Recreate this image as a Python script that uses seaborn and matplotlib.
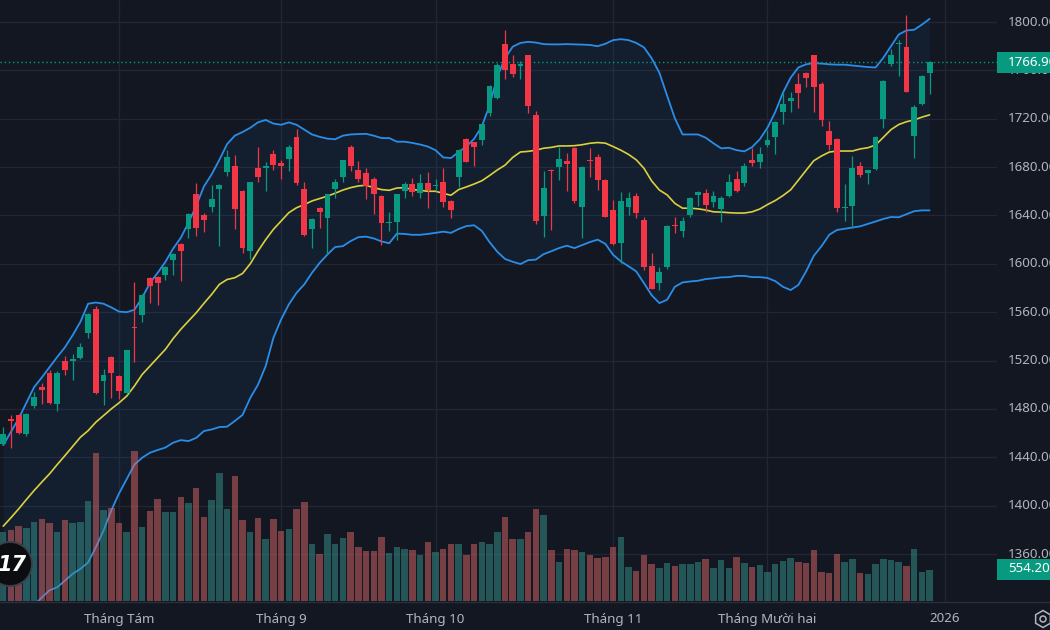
import numpy as np
import pandas as pd
import matplotlib
matplotlib.use("Agg")
import matplotlib.pyplot as plt
import seaborn as sns
from matplotlib.patches import Rectangle, Circle, RegularPolygon
from matplotlib.lines import Line2D
from matplotlib.transforms import blended_transform_factory, IdentityTransform

# ---------------- data ----------------
opens = [1451, 1472, 1475, 1459, 1482, 1498, 1509.5, 1484, 1520, 1520,
         1522, 1542.5, 1563, 1503, 1523, 1507, 1493, 1548, 1558, 1588,
         1589.5, 1590.5, 1603, 1616, 1628.5, 1658, 1640.5, 1647, 1661.5, 1676,
         1681, 1660, 1611, 1679, 1679, 1690.5, 1683, 1687, 1705, 1661.5,
         1629, 1646.5, 1638, 1662, 1672, 1697, 1678, 1675.5, 1670.5, 1656.5,
         1634, 1634.5, 1660.5, 1666, 1658.5, 1667, 1664, 1667.5, 1652, 1672,
         1703, 1700.5, 1702, 1724.5, 1737.5, 1782, 1765.5, 1764, 1772.5, 1723,
         1639.5, 1678, 1680, 1685, 1696, 1647, 1686, 1688.5, 1669.5, 1644.5,
         1617, 1647, 1656.5, 1636.5, 1598, 1584.5, 1597, 1632.5, 1627, 1640,
         1657, 1658.5, 1651, 1645.5, 1656, 1670.5, 1667, 1686, 1684, 1698,
         1704.5, 1725.5, 1735, 1749, 1758, 1772.5, 1749, 1710, 1703.5, 1646,
         1647.5, 1680.5, 1675.5, 1678.5, 1720, 1765, 1782, 1779.5, 1706, 1732.5,
         1758]
highs = [1465, 1475, 1476, 1476.5, 1494, 1501.5, 1512, 1511, 1524, 1525.5,
         1534.5, 1559, 1565.5, 1513, 1524, 1508, 1529, 1585, 1575, 1589,
         1590, 1598, 1609, 1617, 1642, 1666.5, 1642, 1665, 1666, 1694,
         1690, 1661, 1668, 1697, 1684, 1694.5, 1686, 1698, 1711.5, 1668,
         1638, 1647, 1658, 1670, 1686, 1698, 1685, 1679.5, 1672, 1657,
         1643, 1658, 1667.5, 1671, 1674.5, 1676, 1670.5, 1679, 1653, 1695,
         1704, 1701, 1716, 1748, 1766, 1793.5, 1773, 1768, 1773, 1726.5,
         1677, 1678.5, 1697, 1691.5, 1697, 1680.5, 1695.5, 1691, 1670.5, 1652.5,
         1659, 1659.5, 1658.5, 1638.5, 1609, 1597.5, 1632, 1639, 1638.5, 1655,
         1660, 1661.5, 1660, 1656.5, 1674.5, 1677, 1683, 1695.5, 1696.5, 1711,
         1718, 1742.5, 1742.5, 1758, 1759, 1773, 1750, 1718.5, 1704, 1666,
         1689, 1684.5, 1678, 1706, 1752, 1777.5, 1785.5, 1806, 1731, 1756,
         1767.5]
lows = [1450, 1448, 1459, 1458, 1481, 1484, 1484, 1478, 1508, 1504,
        1521, 1539, 1492, 1483, 1489, 1488, 1492, 1519, 1552, 1568,
        1566, 1586.5, 1591, 1586, 1621, 1623, 1626, 1643, 1615, 1673,
        1629, 1609, 1604, 1668, 1660, 1678, 1670.5, 1677, 1665, 1623,
        1613, 1630, 1608.5, 1654.5, 1668, 1676.5, 1668, 1654, 1641, 1615.5,
        1627, 1619.5, 1654.5, 1656.5, 1654.5, 1646, 1660, 1647, 1638, 1663.5,
        1684, 1680.5, 1698.5, 1722, 1736, 1753, 1754.5, 1753, 1725, 1633,
        1622, 1628, 1669, 1660.5, 1650.5, 1621.5, 1672, 1661, 1638.5, 1615.5,
        1600.5, 1640.5, 1638, 1595, 1579, 1578.5, 1596, 1625.5, 1622.5, 1639,
        1647.5, 1643, 1647, 1635, 1655, 1659, 1664.5, 1681, 1679.5, 1697,
        1691, 1716, 1725.5, 1728.5, 1746.5, 1725.5, 1714, 1694, 1642.5, 1635.5,
        1629.5, 1671.5, 1666, 1678, 1712.5, 1764, 1755, 1742, 1687.5, 1731,
        1740.5]
closes = [1459, 1470, 1460, 1476, 1490, 1496, 1485, 1510, 1512.5, 1521,
          1531, 1558.5, 1493, 1508, 1510, 1495, 1528.5, 1547, 1574, 1581.5,
          1584, 1597, 1608.5, 1611, 1641, 1630, 1636, 1654, 1665, 1688,
          1645.5, 1613, 1667.5, 1672, 1681, 1682, 1681, 1697, 1666.5, 1624,
          1637, 1643, 1657.5, 1667.5, 1685.5, 1681, 1670.5, 1664.5, 1657.5, 1633.5,
          1635, 1657.5, 1666, 1659, 1666.5, 1661, 1665, 1651.5, 1644.5, 1694.5,
          1684.5, 1697, 1715.5, 1747, 1764.5, 1760, 1757, 1765, 1730.5, 1635.5,
          1663, 1677, 1687, 1682.5, 1652, 1680, 1685, 1669, 1639, 1616.5,
          1652, 1654.5, 1642, 1597.5, 1579.5, 1593.5, 1631.5, 1631, 1635.5, 1654.5,
          1659.5, 1648.5, 1656, 1654.5, 1668, 1660, 1680.5, 1683.5, 1691, 1702,
          1717.5, 1732.5, 1737.5, 1741, 1753.5, 1746.5, 1719, 1698, 1646.5, 1647,
          1679.5, 1673.5, 1677.5, 1704.5, 1751.5, 1772.5, 1783, 1742.5, 1730, 1755,
          1766.9]
volumes = [1228, 1269, 1341, 1300, 1407, 1466, 1389, 1239, 1448, 1389,
           1418, 1788, 2652, 1627, 1668, 1389, 1234, 2687, 1328, 1615,
           1818, 1597, 1586, 1865, 1758, 2015, 1507, 1806, 2283, 1645,
           2235, 1448, 1234, 1479, 1114, 1466, 1252, 1287, 1650, 1770,
           1019, 835, 1198, 1019, 1126, 1234, 974, 885, 890, 1144,
           864, 966, 930, 917, 830, 1058, 876, 937, 1012, 1025,
           822, 1025, 1058, 1012, 1239, 1495, 1112, 1100, 1239, 1650,
           1543, 907, 697, 921, 907, 869, 831, 763, 787, 973,
           1144, 608, 542, 831, 656, 590, 688, 626, 656, 656,
           704, 751, 590, 733, 590, 787, 688, 599, 638, 519,
           656, 721, 763, 697, 679, 912, 519, 501, 833, 697,
           751, 508, 486, 654, 751, 740, 690, 626, 924, 519,
           554.2]
bb_upper = [1450, 1461, 1472, 1485, 1498, 1506, 1514.5, 1523, 1531, 1541,
            1552, 1567, 1568, 1567, 1564, 1560.5, 1560, 1562, 1572, 1584,
            1592.5, 1601.5, 1612.5, 1621.5, 1634, 1648, 1664, 1674, 1686, 1699,
            1706, 1709, 1712.5, 1717, 1719, 1716, 1715, 1717, 1715, 1711,
            1707, 1705, 1703.5, 1703, 1706, 1707, 1707.3, 1707.5, 1706, 1704,
            1704, 1701, 1701, 1700, 1698.7, 1697, 1694, 1688, 1687.5, 1692.5,
            1697, 1703.4, 1713.7, 1731, 1754.7, 1770, 1779.6, 1782.7, 1783.6, 1783,
            1781.7, 1781.5, 1781.5, 1781.7, 1781.5, 1781.3, 1781, 1780, 1782, 1785,
            1785.8, 1785, 1782.7, 1779, 1770, 1758, 1739, 1720.4, 1707, 1707,
            1707, 1704.3, 1699.7, 1695.5, 1696, 1694, 1693, 1696.5, 1703, 1712.6,
            1725.5, 1741.5, 1754, 1762.4, 1765, 1766, 1765.6, 1765, 1764.7, 1764.7,
            1764, 1763.4, 1762.7, 1762.4, 1770.4, 1780, 1789.7, 1793, 1793.6, 1797.8,
            1802.6]
bb_mid = [1383, 1390, 1397.3, 1405, 1412.5, 1419.5, 1426.3, 1434, 1441.4, 1449,
          1456.6, 1462, 1469, 1474.5, 1480, 1485, 1490.6, 1499, 1508.5, 1515.4,
          1522.3, 1529.2, 1538, 1545.8, 1552.7, 1559.5, 1567.3, 1574.7, 1583, 1587,
          1588.5, 1592, 1600, 1610.5, 1620, 1628.5, 1635.4, 1642.3, 1646.4, 1649,
          1652, 1654, 1656, 1658.4, 1661, 1663, 1664.4, 1665, 1663, 1661.4,
          1660.8, 1662.7, 1663, 1661.4, 1660.8, 1660, 1660, 1658.3, 1656.7, 1661.4,
          1663.6, 1666, 1668.7, 1673, 1677.6, 1681.6, 1688, 1692.5, 1693, 1694,
          1695.6, 1696.3, 1697.5, 1697.5, 1697.7, 1698.5, 1699.7, 1700.3, 1699.8, 1697,
          1694, 1690.5, 1686, 1679, 1668.5, 1661, 1657, 1650, 1646, 1646,
          1645.5, 1644.5, 1643, 1642.8, 1642.3, 1642, 1642, 1643, 1645.3, 1649,
          1652.3, 1656.4, 1661.2, 1669.2, 1677.3, 1685.3, 1689.2, 1692.4, 1693.3, 1693.3,
          1693.3, 1695, 1696, 1698.2, 1704.6, 1711, 1715.2, 1717.5, 1719, 1721.3,
          1723.2]
# lower band is below the visible price range for the first four bars
bb_lower = [np.nan, np.nan, np.nan, np.nan, 1318, 1324, 1330, 1332.5, 1338, 1343.6,
            1347.7, 1353, 1365.6, 1379.4, 1396, 1410, 1422, 1434, 1439.6, 1443.7,
            1446, 1448, 1452, 1454.2, 1453.4, 1456, 1461.7, 1463, 1465, 1465.3,
            1470, 1475, 1489, 1500, 1515.4, 1538.8, 1554, 1566.4, 1576, 1583,
            1592.6, 1600.8, 1607.7, 1613.9, 1614.6, 1618.8, 1622, 1622.5, 1621, 1618.5,
            1617, 1625, 1624.7, 1624, 1624, 1624.7, 1625.6, 1626.6, 1625.6, 1628.8,
            1631.2, 1631.9, 1627.2, 1617.9, 1610, 1604, 1601.7, 1599.8, 1603, 1603.5,
            1608, 1610.4, 1613, 1615, 1613, 1615.5, 1618, 1620, 1616.5, 1607.5,
            1602, 1598, 1593.7, 1584, 1574, 1567.5, 1570.3, 1581, 1584.6, 1585.4,
            1586, 1587.4, 1588, 1588.8, 1589, 1590, 1590, 1589, 1589, 1588.3,
            1585.7, 1581, 1578.3, 1582.5, 1593.7, 1606.6, 1614.6, 1624, 1628, 1629,
            1630, 1631, 1633, 1635, 1637.1, 1638.7, 1638.5, 1641, 1643.5, 1644.2,
            1644.2]
month_labels = ["Tháng Tám", "Tháng 9", "Tháng 10", "Tháng 11", "Tháng Mười hai", "2026"]
month_start_bar = [15, 36, 56, 79, 99, 122]
price_ticks = [1800, 1760, 1720, 1680, 1640, 1600, 1560, 1520, 1480, 1440, 1400, 1360]
last_price_label = "1766.90"
last_volume_label = "554.20M"

# ---------------- style ----------------
sns.set_theme(style="dark")
plt.rcParams['font.family'] = ['Noto Sans', 'DejaVu Sans']

BG = '#131722'
GRID = '#222632'
TXT = '#b2b5be'
GREEN = '#089981'
RED = '#f23645'
BLUE = '#2a8de8'
YELLOW = '#ddd03e'

W, H = 1050, 630
fig = plt.figure(figsize=(W / 100, H / 100), dpi=100, facecolor=BG)
ax = fig.add_axes([0, 29 / H, 997 / W, 601 / H])
ax.set_facecolor(BG)

n = len(closes)
idx = np.arange(n)
o = np.array(opens, float)
h = np.array(highs, float)
l = np.array(lows, float)
c = np.array(closes, float)
up = c >= o

# grid
for p in price_ticks:
    ax.axhline(p, color=GRID, lw=1.0, zorder=0)
for m in month_start_bar:
    ax.axvline(m, color=GRID, lw=1.0, zorder=0)

# Bollinger band fill + lines
upper = np.array(bb_upper, float)
mid = np.array(bb_mid, float)
lower = np.array(bb_lower, float)
ax.fill_between(idx, upper, np.where(np.isnan(lower), 1300, lower),
                color='#2196f3', alpha=0.065, lw=0, zorder=1)
sns.lineplot(x=idx, y=upper, ax=ax, color=BLUE, lw=1.3, zorder=2)
sns.lineplot(x=idx, y=mid, ax=ax, color=YELLOW, lw=1.2, zorder=2)
ok = ~np.isnan(lower)
sns.lineplot(x=idx[ok], y=lower[ok], ax=ax, color=BLUE, lw=1.3, zorder=2)

# last price dotted line
ax.axhline(c[-1], color=GREEN, lw=1.0, ls=(0, (1, 2)), zorder=2.5)

# candles
col = np.where(up, GREEN, RED)
ax.vlines(idx, l, h, colors=col, lw=0.9, zorder=3)
body_bottom = np.minimum(o, c)
body_h = np.maximum(np.abs(c - o), 0.9)
ax.bar(idx, body_h, bottom=body_bottom, width=0.76, color=col, lw=0, zorder=4)

# volume (overlay, own scale)
axv = ax.twinx()
vdf = pd.DataFrame({"bar": idx, "volume": volumes,
                    "dir": np.where(up, "up", "down")})
sns.barplot(data=vdf, x="bar", y="volume", hue="dir",
            palette={"up": "#26a69a", "down": "#ef5350"},
            dodge=False, native_scale=True, width=0.84, errorbar=None,
            alpha=0.5, linewidth=0, legend=False, ax=axv)
axv.set_ylim(0, 601 * volumes[-1] / 31.0)
axv.set_axis_off()

# limits
ax.set_ylim(1800 - (601 - 22) * 40 / 48.364, 1800 + 22 * 40 / 48.364)
ax.set_xlim(-0.415, 128.73)
axv.set_xlim(-0.415, 128.73)
ax.set_xticks([])
ax.set_yticks([])
ax.set_xlabel("")
ax.set_ylabel("")
for s in ax.spines.values():
    s.set_visible(False)

# right price labels (cut by the right edge, as in the reference)
trans = blended_transform_factory(fig.transFigure, ax.transData)
for p in price_ticks:
    ax.text(1008 / W, p, f"{p:.2f}", transform=trans, color=TXT,
            fontsize=9.6, va='center', ha='left', clip_on=False)

# bottom month labels
transx = blended_transform_factory(ax.transData, fig.transFigure)
for lab, m in zip(month_labels, month_start_bar):
    ax.text(m, 1 - 619 / H, lab, transform=transx, color=TXT, fontsize=9.6,
            ha='center', va='center', clip_on=False)

# separator line under plot
fig.add_artist(Line2D([0, 1], [1 - 601.5 / H] * 2, transform=fig.transFigure,
                      color='#2a2e39', lw=1.0, zorder=5))

# last price / last volume tags
def tag(ypix, text):
    fig.add_artist(Rectangle((997 / W, 1 - (ypix + 10.5) / H), 60 / W, 21 / H,
                             transform=fig.transFigure, facecolor=GREEN,
                             edgecolor='none', zorder=10))
    fig.text(1008 / W, 1 - ypix / H, text, color='white', fontsize=9.6,
             fontweight='medium', va='center', ha='left', zorder=11)

price_ypix = 22 + (1800 - c[-1]) * 48.364 / 40
tag(price_ypix, last_price_label)
tag(569, last_volume_label)

# logo (bottom-left) and settings icon (bottom-right)
fig.add_artist(Circle((10, H - 564), 22, transform=IdentityTransform(),
                      facecolor='#0c0d10', edgecolor='#3a3e4a', lw=1.3, zorder=12))
fig.text(12 / W, 1 - 565 / H, "17", color='white', fontsize=15,
         fontweight='heavy', fontstyle='italic', family='DejaVu Sans',
         ha='center', va='center', zorder=13)
fig.add_artist(RegularPolygon((1043, H - 619), 6, radius=8.5,
                              transform=IdentityTransform(), facecolor='none',
                              edgecolor=TXT, lw=1.1, zorder=12))
fig.add_artist(Circle((1043, H - 619), 3, transform=IdentityTransform(),
                      facecolor='none', edgecolor=TXT, lw=1.1, zorder=12))

fig.savefig("out.png", dpi=100, facecolor=BG)
